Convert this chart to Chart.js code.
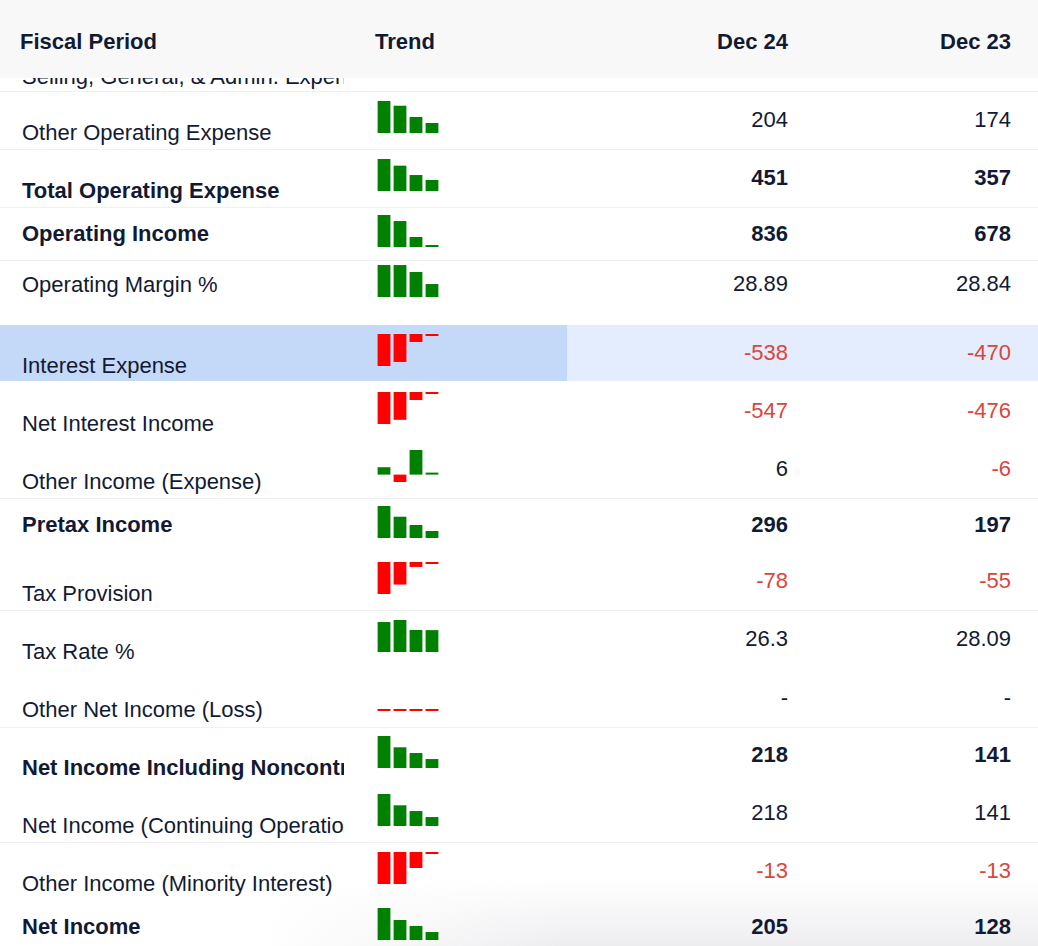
<!DOCTYPE html>
<html>
<head>
<meta charset="utf-8">
<script src="https://cdn.jsdelivr.net/npm/chart.js@4.4.1/dist/chart.umd.min.js"></script>
<style>
  html, body { margin:0; padding:0; }
  body { width:1038px; height:946px; overflow:hidden; background:#ffffff; position:relative;
         font-family:"Liberation Sans", Arial, Helvetica, sans-serif; color:#121a33; }
  .abs { position:absolute; white-space:nowrap; }
  .txt { font-size:22px; line-height:24px; height:24px; }
  .lbl { left:22px; width:322px; overflow:hidden; }
  .val { text-align:right; width:200px; }
  .b { font-weight:bold; }
  .neg { color:#d9463b; }
  #header { position:absolute; left:0; top:0; width:1038px; height:78px; background:#f8f8f9; z-index:5; }
  .sep { position:absolute; left:0; width:1038px; height:1px; background:#f1f1f3; }
  canvas.spark { position:absolute; }
  #fade { position:absolute; left:0; top:878px; width:1038px; height:68px; pointer-events:none;
          background:linear-gradient(to bottom, rgba(235,235,238,0) 0%, rgba(226,226,230,0.6) 100%);
          -webkit-mask-image:linear-gradient(to right, transparent 260px, black 560px);
          mask-image:linear-gradient(to right, transparent 260px, black 560px); }
</style>
</head>
<body>
<div id="fade"></div>
<script>
// ---------------- DATA ----------------
const periods = ['Dec 24', 'Dec 23', 'Dec 22', 'Dec 21'];
const columnHeaders = ['Fiscal Period', 'Trend', 'Dec 24', 'Dec 23'];

const rowLabels = [
  'Selling, General, & Admin. Expense',
  'Other Operating Expense',
  'Total Operating Expense',
  'Operating Income',
  'Operating Margin %',
  'Interest Expense',
  'Net Interest Income',
  'Other Income (Expense)',
  'Pretax Income',
  'Tax Provision',
  'Tax Rate %',
  'Other Net Income (Loss)',
  'Net Income Including Noncontrolling Interest',
  'Net Income (Continuing Operations)',
  'Other Income (Minority Interest)',
  'Net Income'
];

// values per row, ordered like `periods` (Dec 24, Dec 23, Dec 22, Dec 21); null = "-"
const sellingGeneralAdmin         = null;
const otherOperatingExpense       = [204, 174, 102, 64];
const totalOperatingExpense       = [451, 357, 225, 155];
const operatingIncome             = [836, 678, 261, 12];
const operatingMarginPct          = [28.89, 28.84, 22.6, 11.7];
const interestExpense             = [-538, -470, -134, -6];
const netInterestIncome           = [-547, -476, -137, -6];
const otherIncomeExpense          = [6, -6, 20, 0.5];
const pretaxIncome                = [296, 197, 120, 65];
const taxProvision                = [-78, -55, -12, -3];
const taxRatePct                  = [26.3, 28.09, 19.3, 19.2];
const otherNetIncomeLoss          = [null, null, null, null];
const netIncomeInclNoncontrolling = [218, 141, 102, 61];
const netIncomeContinuingOps      = [218, 141, 102, 61];
const otherIncomeMinorityInterest = [-13, -13, -6.5, -0.5];
const netIncome                   = [205, 128, 90, 51];

const rowSeries = [
  sellingGeneralAdmin, otherOperatingExpense, totalOperatingExpense, operatingIncome,
  operatingMarginPct, interestExpense, netInterestIncome, otherIncomeExpense,
  pretaxIncome, taxProvision, taxRatePct, otherNetIncomeLoss,
  netIncomeInclNoncontrolling, netIncomeContinuingOps, otherIncomeMinorityInterest, netIncome
];

// ---------------- STYLE / LAYOUT ----------------
const boldRows = new Set(['Total Operating Expense', 'Operating Income', 'Pretax Income',
  'Net Income Including Noncontrolling Interest', 'Net Income']);
const highlightRow = 'Interest Expense';
const GREEN = '#008000', RED = '#ff0000';

const layoutChartTop = [null, 101, 159, 215, 265, 334, 392, 450, 506, 562, 620, 679, 736, 794, 852, 908];
const layoutLabelY   = [77, 133, 191, 234, 285, 366, 424, 482, 525, 594, 652, 710, 768, 826, 884, 927];
const layoutSeps     = [91, 149, 207, 260, 498, 610, 727, 842];

// ---------------- BUILD ----------------
const body = document.body;
function el(tag, cls, style, text) {
  const e = document.createElement(tag);
  if (cls) e.className = cls;
  if (style) Object.assign(e.style, style);
  if (text !== undefined) e.textContent = text;
  body.appendChild(e);
  return e;
}

// header
const header = el('div', null, null);
header.id = 'header';
function headCell(text, style) {
  const d = document.createElement('div');
  d.className = 'abs txt b';
  Object.assign(d.style, style);
  d.textContent = text;
  header.appendChild(d);
}
headCell(columnHeaders[0], { left: '20px', top: '30px' });
headCell(columnHeaders[1], { left: '375px', top: '30px' });
headCell(columnHeaders[2], { right: '250px', top: '30px' });
headCell(columnHeaders[3], { right: '27px', top: '30px' });

// separators
layoutSeps.forEach(y => el('div', 'sep', { top: y + 'px' }));

function fmt(v) { return v === null || v === undefined ? '-' : String(v); }

rowLabels.forEach((label, i) => {
  const series = rowSeries[i];
  const bold = boldRows.has(label);
  const chartTop = layoutChartTop[i];

  if (label === highlightRow) {
    el('div', 'abs', { left: '0px', top: (chartTop - 9) + 'px', width: '567px', height: '56px', background: '#c4d8f8' });
    el('div', 'abs', { left: '567px', top: (chartTop - 9) + 'px', width: '471px', height: '56px', background: '#e4edfd' });
  }

  el('div', 'abs txt lbl' + (bold ? ' b' : ''), { top: (layoutLabelY[i] - 12) + 'px' }, label);

  if (!series) return;
  const valueY = chartTop + 19;
  [0, 1].forEach(k => {
    const v = series[k];
    const right = k === 0 ? 250 : 27;
    el('div', 'abs txt val' + (bold ? ' b' : '') + (v !== null && v < 0 ? ' neg' : ''),
       { right: right + 'px', top: (valueY - 12) + 'px' }, fmt(v));
  });

  // sparkline
  const cv = document.createElement('canvas');
  cv.className = 'spark';
  cv.width = 64; cv.height = 32;
  Object.assign(cv.style, { left: '376px', top: chartTop + 'px', width: '64px', height: '32px' });
  body.appendChild(cv);
  const vals = series.map(v => (v === null ? 0 : v));
  let lo = Math.min(0, ...vals), hi = Math.max(0, ...vals);
  if (lo === hi) hi = lo + 1;
  new Chart(cv, {
    type: 'bar',
    data: {
      labels: periods,
      datasets: [{
        data: vals,
        backgroundColor: vals.map(v => (v > 0 ? GREEN : RED)),
        borderWidth: 0,
        barPercentage: 0.8,
        categoryPercentage: 1,
        minBarLength: 2
      }]
    },
    options: {
      responsive: false,
      animation: false,
      events: [],
      layout: { padding: 0 },
      plugins: { legend: { display: false }, tooltip: { enabled: false } },
      scales: {
        x: { display: false },
        y: { display: false, min: lo, max: hi }
      }
    }
  });
});
</script>
</body>
</html>
